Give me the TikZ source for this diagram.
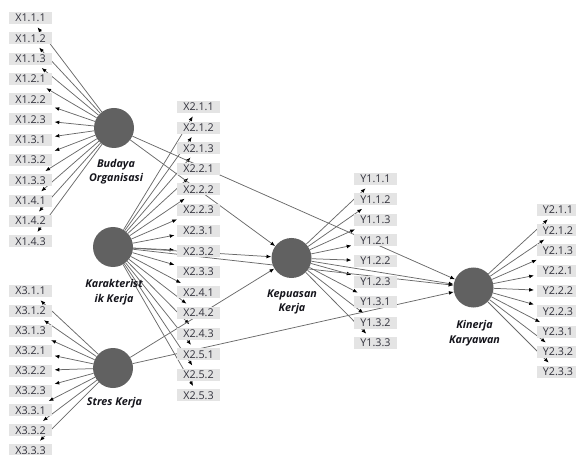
\documentclass[tikz,border=0pt]{standalone}
\usepackage{fontspec}
\setmainfont{Open Sans}
\usetikzlibrary{arrows.meta,backgrounds}
\definecolor{boxfill}{HTML}{E4E4E4}
\definecolor{indtext}{HTML}{33333D}
\definecolor{lvcol}{HTML}{616161}
\definecolor{edgecol}{HTML}{6A6A6A}
\definecolor{lvtext}{HTML}{15151C}
\begin{document}
\begin{tikzpicture}[x=1bp,y=-1bp,
  ind/.style={fill=boxfill, text=indtext, minimum width=43bp, minimum height=12bp,
    inner sep=0pt, outer xsep=2.5bp, outer ysep=3.3bp,
    font=\fontsize{10.8}{10.8}\selectfont},
  lv/.style={circle, fill=lvcol, minimum size=40bp, inner sep=0pt},
  lvlabel/.style={align=center, text=lvtext,
    font=\fontsize{10.8}{14.5}\selectfont\bfseries\itshape},
  arr/.style={draw=edgecol, line width=0.75bp,
    -{Latex[length=4.8bp,width=3.8bp,color=black]}}
]
\useasboundingbox (0,0) rectangle (576,455);

% latent variables
\node[lv] (BO) at (114,128) {};
\node[lv] (KK) at (113,247) {};
\node[lv] (SK) at (113,368) {};
\node[lv] (KP) at (291.5,258) {};
\node[lv] (KY) at (473.5,287.5) {};

\node[lvlabel] (BOl) at (116,171.5) {Budaya\\Organisasi};
\node[lvlabel] (KKl) at (114,292) {Karakterist\\ik Kerja};
\node[lvlabel] (SKl) at (114.5,403) {Stres Kerja};
\node[lvlabel] (KPl) at (292,302) {Kepuasan\\Kerja};
\node[lvlabel] (KYl) at (474.5,333) {Kinerja\\Karyawan};

% indicators
\foreach \i/\t in {0/X1.1.1,1/X1.1.2,2/X1.1.3,3/X1.2.1,4/X1.2.2,5/X1.2.3,
                   6/X1.3.1,7/X1.3.2,8/X1.3.3,9/X1.4.1,10/X1.4.2,11/X1.4.3}
  \node[ind] (xa\i) at ({30.5},{18+20.3*\i}) {\t};
\foreach \i/\t in {0/X2.1.1,1/X2.1.2,2/X2.1.3,3/X2.2.1,4/X2.2.2,5/X2.2.3,
                   6/X2.3.1,7/X2.3.2,8/X2.3.3,9/X2.4.1,10/X2.4.2,11/X2.4.3,
                   12/X2.5.1,13/X2.5.2,14/X2.5.3}
  \node[ind] (xb\i) at ({198.5},{107+20.6*\i}) {\t};
\foreach \i/\t in {0/X3.1.1,1/X3.1.2,2/X3.1.3,3/X3.2.1,4/X3.2.2,5/X3.2.3,
                   6/X3.3.1,7/X3.3.2,8/X3.3.3}
  \node[ind] (xc\i) at ({30.5},{291+19.9*\i}) {\t};
\foreach \i/\t in {0/Y1.1.1,1/Y1.1.2,2/Y1.1.3,3/Y1.2.1,4/Y1.2.2,5/Y1.2.3,
                   6/Y1.3.1,7/Y1.3.2,8/Y1.3.3}
  \node[ind] (ya\i) at ({375.5},{179+20.5*\i}) {\t};
\foreach \i/\t in {0/Y2.1.1,1/Y2.1.2,2/Y2.1.3,3/Y2.2.1,4/Y2.2.2,5/Y2.2.3,
                   6/Y2.3.1,7/Y2.3.2,8/Y2.3.3}
  \node[ind] (yb\i) at ({558},{210+20.25*\i}) {\t};

% connectors
\begin{scope}[on background layer]
  \foreach \i in {0,...,11} \draw[arr] (BO) -- (xa\i);
  \foreach \i in {0,...,14} \draw[arr] (KK) -- (xb\i);
  \foreach \i in {0,...,8} \draw[arr] (SK) -- (xc\i);
  \foreach \i in {0,...,8} \draw[arr] (KP) -- (ya\i);
  \foreach \i in {0,...,8} \draw[arr] (KY) -- (yb\i);
  \draw[arr] (BO) -- (KP);
  \draw[arr] (BO) -- (KY);
  \draw[arr] (KK) -- (KP);
  \draw[arr] (KK) -- (KY);
  \draw[arr] (SK) -- (KP);
  \draw[arr] (SK) -- (KY);
  \draw[arr] (KP) -- (KY);
\end{scope}
\end{tikzpicture}
\end{document}
